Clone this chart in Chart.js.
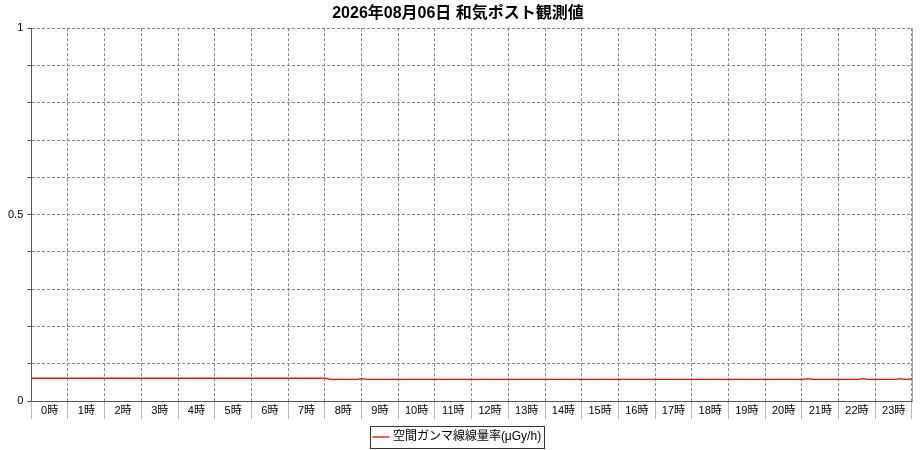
<!DOCTYPE html>
<html>
<head>
<meta charset="utf-8">
<script src="https://cdn.jsdelivr.net/npm/chart.js@4"></script>
<style>
  body { margin: 0; background: #fff; }
</style>
</head>
<body>
<canvas id="doseChart" width="920" height="450"></canvas>
<script>
// hour labels on the bottom axis
const hourLabels = ["0時", "1時", "2時", "3時", "4時", "5時", "6時", "7時", "8時", "9時", "10時", "11時",
    "12時", "13時", "14時", "15時", "16時", "17時", "18時", "19時", "20時", "21時", "22時", "23時"];

// 10 minute readings (µGy/h), one row per hour, last value is 24:00
const doseValues = [
    0.061, 0.061, 0.061, 0.061, 0.061, 0.061,   // 0時
    0.061, 0.061, 0.061, 0.061, 0.061, 0.061,   // 1時
    0.061, 0.061, 0.061, 0.061, 0.061, 0.061,   // 2時
    0.061, 0.061, 0.061, 0.061, 0.061, 0.061,   // 3時
    0.061, 0.061, 0.061, 0.061, 0.061, 0.061,   // 4時
    0.061, 0.061, 0.061, 0.061, 0.061, 0.061,   // 5時
    0.061, 0.061, 0.061, 0.061, 0.061, 0.061,   // 6時
    0.061, 0.061, 0.061, 0.061, 0.061, 0.061,   // 7時
    0.061, 0.058, 0.058, 0.058, 0.058, 0.058,   // 8時
    0.0595, 0.058, 0.058, 0.058, 0.058, 0.058,  // 9時
    0.058, 0.058, 0.058, 0.058, 0.058, 0.058,   // 10時
    0.058, 0.058, 0.058, 0.058, 0.058, 0.058,   // 11時
    0.058, 0.058, 0.058, 0.058, 0.058, 0.058,   // 12時
    0.058, 0.058, 0.058, 0.058, 0.058, 0.058,   // 13時
    0.058, 0.058, 0.058, 0.058, 0.058, 0.058,   // 14時
    0.058, 0.058, 0.058, 0.058, 0.058, 0.058,   // 15時
    0.058, 0.058, 0.058, 0.058, 0.058, 0.058,   // 16時
    0.058, 0.058, 0.058, 0.058, 0.058, 0.058,   // 17時
    0.058, 0.058, 0.058, 0.058, 0.058, 0.058,   // 18時
    0.058, 0.058, 0.058, 0.058, 0.058, 0.058,   // 19時
    0.058, 0.058, 0.058, 0.058, 0.058, 0.058,   // 20時
    0.058, 0.0595, 0.058, 0.058, 0.058, 0.058,  // 21時
    0.058, 0.058, 0.058, 0.058, 0.0595, 0.058,  // 22時
    0.058, 0.058, 0.058, 0.058, 0.0595, 0.058,  // 23時
    0.0595                                      // 24時
];

const yTickLabels = { 0: "0", 0.5: "0.5", 1: "1" };

const font = "'Liberation Sans', Arial, 'Noto Sans CJK JP', sans-serif";

// readings are every 10 minutes, so reading i sits at i/6 hours
const points = doseValues.map((v, i) => ({ x: i / 6, y: v }));

// draws a frame around the legend item like the original
const legendFrame = {
    id: "legendFrame",
    afterDraw(chart) {
        const lg = chart.legend;
        if (!lg || !lg.legendHitBoxes || !lg.legendHitBoxes.length) return;
        const hb = lg.legendHitBoxes[0];
        const ctx = chart.ctx;
        ctx.save();
        ctx.strokeStyle = "#333";
        ctx.lineWidth = 1;
        ctx.strokeRect(Math.round(hb.left - 5) + 0.5, Math.round(hb.top - 5) + 0.5,
            Math.round(hb.width + 8), Math.round(hb.height + 10));
        ctx.restore();
    }
};

new Chart(document.getElementById("doseChart"), {
    type: "line",
    data: {
        labels: hourLabels,
        datasets: [{
            label: "空間ガンマ線線量率(μGy/h)",
            data: points,
            xAxisID: "xt",
            borderColor: "#f01800",
            backgroundColor: "#f01800",
            borderWidth: 1.4,
            pointRadius: 0,
            tension: 0.4,
            fill: false
        }]
    },
    options: {
        responsive: false,
        animation: false,
        layout: { padding: { left: 4, right: 8, top: 0, bottom: -3 } },
        plugins: {
            title: {
                display: true,
                text: "2026年08月06日 和気ポスト観測値",
                color: "#000",
                font: { family: font, size: 16, weight: "bold" },
                padding: { top: 4, bottom: 5 }
            },
            legend: {
                position: "bottom",
                labels: {
                    color: "#000",
                    font: { family: font, size: 12 },
                    usePointStyle: true,
                    pointStyle: "line",
                    boxWidth: 20,
                    padding: 3
                }
            },
            tooltip: { enabled: false }
        },
        scales: {
            x: {
                type: "category",
                offset: true,
                afterFit: function(scale) { scale.height = 27; },
                grid: {
                    offset: true,
                    color: "#888",
                    tickColor: "#bbb",
                    tickLength: 18,
                    tickBorderDash: []
                },
                border: { color: "#555", dash: [3, 2] },
                ticks: {
                    color: "#000",
                    font: { family: font, size: 11 },
                    maxRotation: 0,
                    autoSkip: false,
                    padding: -15
                }
            },
            xt: {
                type: "linear",
                min: 0,
                max: 24,
                display: false
            },
            y: {
                min: 0,
                max: 1,
                grid: {
                    color: "#888",
                    tickColor: "#555",
                    tickLength: 4,
                    tickBorderDash: []
                },
                border: { color: "#555", dash: [3, 2] },
                ticks: {
                    stepSize: 0.1,
                    autoSkip: false,
                    color: "#000",
                    font: { family: font, size: 11 },
                    padding: 4,
                    callback: function(value) {
                        const key = Math.round(value * 10) / 10;
                        return yTickLabels[key] !== undefined ? yTickLabels[key] : "";
                    }
                }
            },
            yr: {
                position: "right",
                min: 0,
                max: 1,
                grid: { drawOnChartArea: false, drawTicks: false },
                border: { color: "#aaa" },
                ticks: { display: false }
            }
        }
    },
    plugins: [legendFrame]
});
</script>
</body>
</html>
